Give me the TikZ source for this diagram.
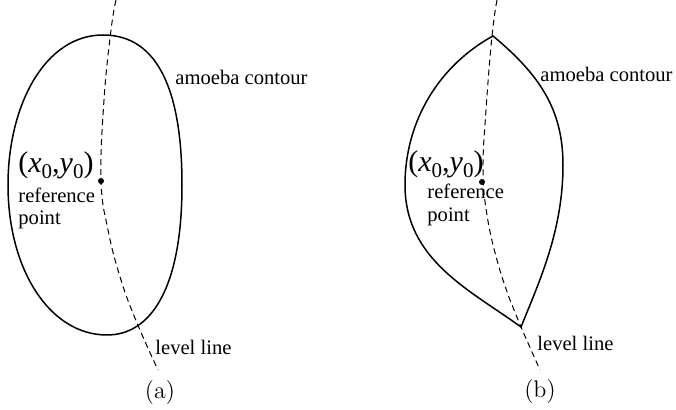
\documentclass[tikz,border=0pt]{standalone}
\usepackage{fontspec}
\newfontfamily\timesf{Liberation Serif}
\newcommand{\subz}{\raisebox{-2.6pt}{\fontsize{10.5}{10}\selectfont 0}}
\begin{document}
\begin{tikzpicture}[x=0.5pt,y=-0.5pt,
  contour/.style={line width=0.75pt,line join=miter},
  levelline/.style={line width=0.5pt,dash pattern=on 3pt off 2pt},
  lbl/.style={font=\timesf\fontsize{10.3}{11}\selectfont,inner sep=0pt},
  coordlbl/.style={font=\timesf\fontsize{15}{15}\selectfont,inner sep=0pt},
  captionlbl/.style={font=\fontsize{12}{14}\selectfont,inner sep=0pt},
  refdot/.style={fill=black,circle,inner sep=0pt,minimum size=3pt}]
\useasboundingbox (0,0) rectangle (676,410);
% ---------- panel (a)
\draw[contour] (103,35) .. controls (160,35) and (182,95) .. (182,185)
  .. controls (182,290) and (150,335) .. (107,335)
  .. controls (50,335) and (8,270) .. (8,185)
  .. controls (8,105) and (45,35) .. cycle;
\draw[levelline] plot[smooth,tension=0.7] coordinates{
 (116,0) (111,30) (104,100) (101,180) (108,230) (121,280) (137,323) (158,370)};
\node[refdot] (pa) at (101,181) {};
\node[coordlbl,anchor=base west] (xa) at (18,173) {({\itshape x}\subz,{\itshape y}\subz)};
\node[lbl,anchor=base west] (ra) at (18,203) {reference};
\node[lbl,anchor=base west] (pta) at (18,225) {point};
\node[lbl,anchor=base west] (aca) at (175,85) {amoeba contour};
\node[lbl,anchor=base west] (lla) at (155,355) {level line};
\node[captionlbl,anchor=base] (capa) at (160,399) {(a)};
% ---------- panel (b)
\coordinate (topb) at (493,36);
\coordinate (botb) at (521,327);
\draw[contour] (topb) .. controls (540,75) and (563,110) .. (563,165)
  .. controls (563,230) and (540,280) .. (botb)
  .. controls (470,290) and (405,260) .. (405,185)
  .. controls (405,120) and (440,65) .. cycle;
\draw[levelline] plot[smooth,tension=0.7] coordinates{
 (497,0) (492,36) (486,110) (483,170) (487,215) (497,260) (510,300) (521,327) (540,370)};
\node[refdot] (pb) at (482,182) {};
\node[coordlbl,anchor=base west] (xb) at (408,172) {({\itshape x}\subz,{\itshape y}\subz)};
\node[lbl,anchor=base west] (rb) at (427,199) {reference};
\node[lbl,anchor=base west] (ptb) at (427,222) {point};
\node[lbl,anchor=base west] (acb) at (540,82) {amoeba contour};
\node[lbl,anchor=base west] (llb) at (537,351) {level line};
\node[captionlbl,anchor=base] (capb) at (540,398) {(b)};
\end{tikzpicture}
\end{document}
